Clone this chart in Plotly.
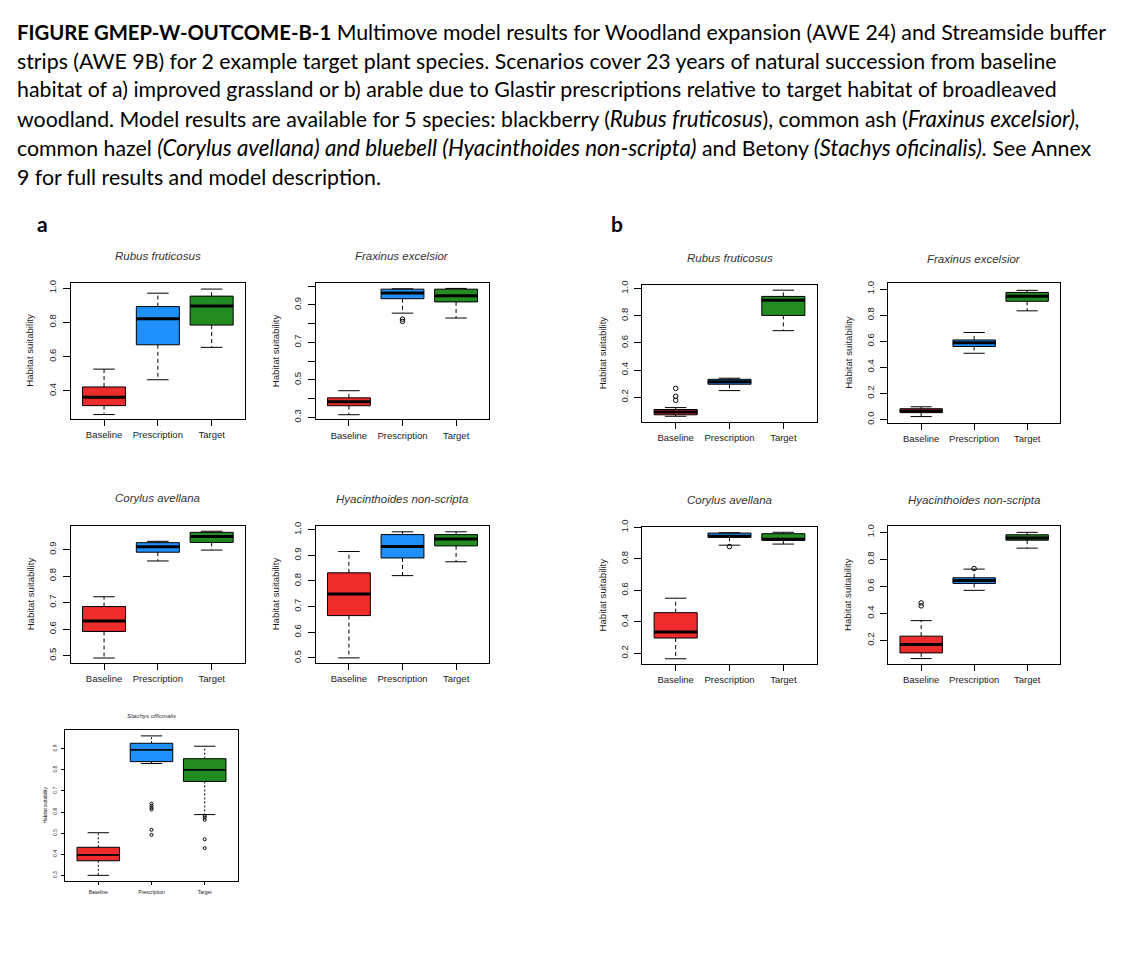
import plotly.graph_objects as go

W, H = 1125, 976

# ---------------- data ----------------
GROUPS = ["Baseline", "Prescription", "Target"]
COLORS = ["#EE2C2C", "#1E90FF", "#228B22"]

# a) improved grassland
a_rubus = dict(low=[0.262, 0.465, 0.654], q1=[0.314, 0.669, 0.784], med=[0.363, 0.821, 0.895],
               q3=[0.423, 0.892, 0.953], high=[0.527, 0.970, 0.994])
a_rubus_out = [[], [], []]
a_fraxinus = dict(low=[0.314, 0.856, 0.830], q1=[0.362, 0.933, 0.916], med=[0.383, 0.963, 0.949],
                  q3=[0.404, 0.984, 0.984], high=[0.442, 0.986, 0.988])
a_fraxinus_out = [[], [0.824, 0.812], []]
a_corylus = dict(low=[0.491, 0.857, 0.898], q1=[0.591, 0.890, 0.927], med=[0.631, 0.911, 0.949],
                 q3=[0.685, 0.926, 0.965], high=[0.722, 0.931, 0.969])
a_corylus_out = [[], [], []]
a_hyacinth = dict(low=[0.500, 0.821, 0.875], q1=[0.665, 0.890, 0.937], med=[0.749, 0.935, 0.964],
                  q3=[0.832, 0.981, 0.981], high=[0.915, 0.992, 0.992])
a_hyacinth_out = [[], [], []]
a_stachys = dict(low=[0.300, 0.830, 0.588], q1=[0.369, 0.839, 0.745], med=[0.397, 0.895, 0.800],
                 q3=[0.433, 0.926, 0.853], high=[0.502, 0.961, 0.912])
a_stachys_out = [[], [0.640, 0.630, 0.620, 0.612, 0.516, 0.492], [0.582, 0.574, 0.563, 0.471, 0.429]]

# b) arable
b_rubus = dict(low=[0.060, 0.249, 0.690], q1=[0.071, 0.296, 0.802], med=[0.091, 0.315, 0.913],
               q3=[0.110, 0.332, 0.942], high=[0.124, 0.340, 0.988])
b_rubus_out = [[0.265, 0.207, 0.178], [], []]
b_fraxinus = dict(low=[0.023, 0.508, 0.833], q1=[0.053, 0.560, 0.906], med=[0.065, 0.588, 0.944],
                  q3=[0.083, 0.610, 0.974], high=[0.098, 0.667, 0.990])
b_fraxinus_out = [[], [], []]
b_corylus = dict(low=[0.165, 0.887, 0.894], q1=[0.297, 0.937, 0.918], med=[0.336, 0.943, 0.925],
                 q3=[0.458, 0.964, 0.960], high=[0.550, 0.966, 0.969])
b_corylus_out = [[], [0.878], []]
b_hyacinth = dict(low=[0.066, 0.571, 0.883], q1=[0.108, 0.622, 0.942], med=[0.171, 0.644, 0.958],
                  q3=[0.232, 0.664, 0.982], high=[0.347, 0.728, 1.000])
b_hyacinth_out = [[0.478, 0.456], [0.732], []]

# y tick values / labels
TICKS_A_RUBUS = [0.4, 0.6, 0.8, 1.0]
TICKS_A_FRAX = [0.3, 0.4, 0.5, 0.6, 0.7, 0.8, 0.9, 1.0]
LABELS_A_FRAX = ["0.3", "", "0.5", "", "0.7", "", "0.9", ""]
TICKS_A_CORY = [0.5, 0.6, 0.7, 0.8, 0.9]
TICKS_A_HYAC = [0.5, 0.6, 0.7, 0.8, 0.9, 1.0]
TICKS_A_STAC = [0.3, 0.4, 0.5, 0.6, 0.7, 0.8, 0.9]
TICKS_B_0 = [0.0, 0.2, 0.4, 0.6, 0.8, 1.0]
TICKS_B_2 = [0.2, 0.4, 0.6, 0.8, 1.0]

BOLD = '<span style="font-weight:bold;font-size:20.3px">%s</span>'
IT = '<i><span style="font-size:22.3px">%s</span></i>'
CAPTION = [
    BOLD % "FIGURE GMEP-W-OUTCOME-B-1" + " Multimove model results for Woodland expansion (AWE 24) and Streamside buffer",
    "strips (AWE 9B) for 2 example target plant species. Scenarios cover 23 years of natural succession from baseline",
    "habitat of a) improved grassland or b) arable due to Glastir prescriptions relative to target habitat of broadleaved",
    "woodland. Model results are available for 5 species: blackberry (" + IT % "Rubus fruticosus"
    + "), common ash (" + IT % "Fraxinus excelsior),",
    "common hazel " + IT % "(Corylus avellana) and bluebell (Hyacinthoides non-scripta)"
    + " and Betony " + IT % "(Stachys oficinalis)." + " See Annex",
    "9 for full results and model description.",
]


def lab(vals):
    return ["%.1f" % v for v in vals]


# ---------------- layout (pixel frames) ----------------
panels = [
    dict(title="Rubus fruticosus", s=a_rubus, out=a_rubus_out, yt=TICKS_A_RUBUS, ytl=lab(TICKS_A_RUBUS),
         frame=(70.7, 277.7, 245.0, 415.7), yr=(0.236, 1.032), ty=251.0, lx=30, small=False),
    dict(title="Fraxinus excelsior", s=a_fraxinus, out=a_fraxinus_out, yt=TICKS_A_FRAX, ytl=LABELS_A_FRAX,
         frame=(315.7, 278.3, 489.3, 416.0), yr=(0.2895, 1.016), ty=250.5, lx=275, small=False),
    dict(title="Rubus fruticosus", s=b_rubus, out=b_rubus_out, yt=TICKS_B_2, ytl=lab(TICKS_B_2),
         frame=(642.3, 280.3, 816.7, 418.3), yr=(0.021, 1.025), ty=252.8, lx=602, small=False),
    dict(title="Fraxinus excelsior", s=b_fraxinus, out=b_fraxinus_out, yt=TICKS_B_0, ytl=lab(TICKS_B_0),
         frame=(888.3, 278.3, 1060.0, 419.3), yr=(-0.023, 1.045), ty=253.8, lx=849, small=False),
    dict(title="Corylus avellana", s=a_corylus, out=a_corylus_out, yt=TICKS_A_CORY, ytl=lab(TICKS_A_CORY),
         frame=(70.7, 523.7, 245.0, 662.3), yr=(0.4728, 0.9896), ty=496.0, lx=30, small=False),
    dict(title="Hyacinthoides non-scripta", s=a_hyacinth, out=a_hyacinth_out, yt=TICKS_A_HYAC, ytl=lab(TICKS_A_HYAC),
         frame=(315.7, 523.7, 489.3, 662.3), yr=(0.4807, 1.0154), ty=496.5, lx=275, small=False),
    dict(title="Corylus avellana", s=b_corylus, out=b_corylus_out, yt=TICKS_B_2, ytl=lab(TICKS_B_2),
         frame=(642.3, 525.0, 816.7, 663.3), yr=(0.133, 1.002), ty=498.0, lx=602, small=False),
    dict(title="Hyacinthoides non-scripta", s=b_hyacinth, out=b_hyacinth_out, yt=TICKS_B_2, ytl=lab(TICKS_B_2),
         frame=(888.3, 524.3, 1060.0, 663.0), yr=(0.0295, 1.044), ty=498.0, lx=848, small=False),
    dict(title="Stachys officinalis", s=a_stachys, out=a_stachys_out, yt=TICKS_A_STAC, ytl=lab(TICKS_A_STAC),
         frame=(65.3, 730.0, 237.7, 883.0), yr=(0.273, 0.990), ty=716.0, lx=45, small=True),
]

FONT = "Liberation Sans"
TXT = "#1a1a1a"

fig = go.Figure()
annotations = []
layout_axes = {}

for i, p in enumerate(panels, start=1):
    xa, ya = "x%d" % i, "y%d" % i
    x0, y0, x1, y1 = p["frame"]
    small = p["small"]
    fs = 5 if small else 9.5
    med_w = 1.5 if small else 3
    dash = "2px,2px" if small else "4px,3px"
    msize = 3 if small else 4.5
    s = p["s"]
    for g in range(3):
        pos = g + 1
        fig.add_trace(go.Box(
            x=[pos], q1=[s["q1"][g]], median=[s["med"][g]], q3=[s["q3"][g]],
            lowerfence=[s["q1"][g]], upperfence=[s["q3"][g]],
            width=0.8, fillcolor=COLORS[g], line=dict(color="black", width=1),
            whiskerwidth=0, boxpoints=False, showlegend=False, hoverinfo="skip",
            xaxis=xa, yaxis=ya))
        # dashed whiskers
        fig.add_trace(go.Scatter(
            x=[pos, pos, None, pos, pos],
            y=[s["q3"][g], s["high"][g], None, s["q1"][g], s["low"][g]],
            mode="lines", line=dict(color="black", width=1, dash=dash),
            showlegend=False, hoverinfo="skip", xaxis=xa, yaxis=ya))
        # staples
        fig.add_trace(go.Scatter(
            x=[pos - 0.2, pos + 0.2, None, pos - 0.2, pos + 0.2],
            y=[s["high"][g], s["high"][g], None, s["low"][g], s["low"][g]],
            mode="lines", line=dict(color="black", width=1),
            showlegend=False, hoverinfo="skip", xaxis=xa, yaxis=ya))
        # thick median
        fig.add_trace(go.Scatter(
            x=[pos - 0.4, pos + 0.4], y=[s["med"][g], s["med"][g]],
            mode="lines", line=dict(color="black", width=med_w),
            showlegend=False, hoverinfo="skip", xaxis=xa, yaxis=ya))
        # outliers
        if p["out"][g]:
            fig.add_trace(go.Scatter(
                x=[pos] * len(p["out"][g]), y=p["out"][g], mode="markers",
                marker=dict(symbol="circle-open", size=msize, color="black", line=dict(width=1)),
                showlegend=False, hoverinfo="skip", xaxis=xa, yaxis=ya))

    key = "" if i == 1 else str(i)
    layout_axes["xaxis" + key] = dict(
        domain=[x0 / W, x1 / W], range=[0.38, 3.62], anchor=ya,
        tickmode="array", tickvals=[1, 2, 3], ticktext=GROUPS,
        ticks="outside", ticklen=3 if small else 6, tickcolor="black", tickwidth=1,
        ticklabelstandoff=3 if small else 1,
        showline=True, mirror=True, linecolor="black", linewidth=1,
        showgrid=False, zeroline=False, fixedrange=True,
        tickfont=dict(family=FONT, size=fs, color=TXT))
    layout_axes["yaxis" + key] = dict(
        domain=[1 - y1 / H, 1 - y0 / H], range=list(p["yr"]), anchor=xa,
        tickmode="array", tickvals=p["yt"], ticktext=p["ytl"], tickangle=-90,
        ticks="outside", ticklen=3 if small else 7, tickcolor="black", tickwidth=1,
        ticklabelstandoff=2 if small else 3,
        showline=True, mirror=True, linecolor="black", linewidth=1,
        showgrid=False, zeroline=False, fixedrange=True,
        tickfont=dict(family=FONT, size=fs, color=TXT))

    # panel title
    annotations.append(dict(
        text="<i>%s</i>" % p["title"], x=(x0 + x1) / 2 / W, y=1 - p["ty"] / H,
        xref="paper", yref="paper", xanchor="center", yanchor="middle", showarrow=False,
        font=dict(family=FONT, size=6.2 if small else 11.5, color="#333333")))
    # y axis label
    annotations.append(dict(
        text="Habitat suitability", x=p["lx"] / W, y=1 - (y0 + y1) / 2 / H,
        xref="paper", yref="paper", xanchor="center", yanchor="middle", showarrow=False,
        textangle=-90, font=dict(family=FONT, size=4.8 if small else 9.6, color=TXT)))

# caption
CAP_Y = [24.5, 53.3, 82.3, 111.3, 140.8, 170.5]
for line, cy in zip(CAPTION, CAP_Y):
    annotations.append(dict(
        text=line, x=15 / W, y=1 - cy / H, xref="paper", yref="paper",
        xanchor="left", yanchor="middle", showarrow=False,
        font=dict(family="Lato", size=21.3, color="black")))

# panel letters
for letter, lx in (("a", 42), ("b", 617)):
    annotations.append(dict(
        text="<b>%s</b>" % letter, x=lx / W, y=1 - 218 / H, xref="paper", yref="paper",
        xanchor="center", yanchor="middle", showarrow=False,
        font=dict(family="Lato", size=21, color="black")))

fig.update_layout(
    width=W, height=H, margin=dict(l=0, r=0, t=0, b=0),
    paper_bgcolor="white", plot_bgcolor="white",
    showlegend=False, boxmode="overlay",
    annotations=annotations, **layout_axes)

PIN = ("document.body.style.margin='0px';document.body.style.overflow='hidden';"
       "var d=document.getElementsByClassName('plotly-graph-div')[0];"
       "d.style.position='absolute';d.style.left='0px';d.style.top='0px';")

fig.write_html("out.html", config={"displayModeBar": False}, post_script=PIN)
